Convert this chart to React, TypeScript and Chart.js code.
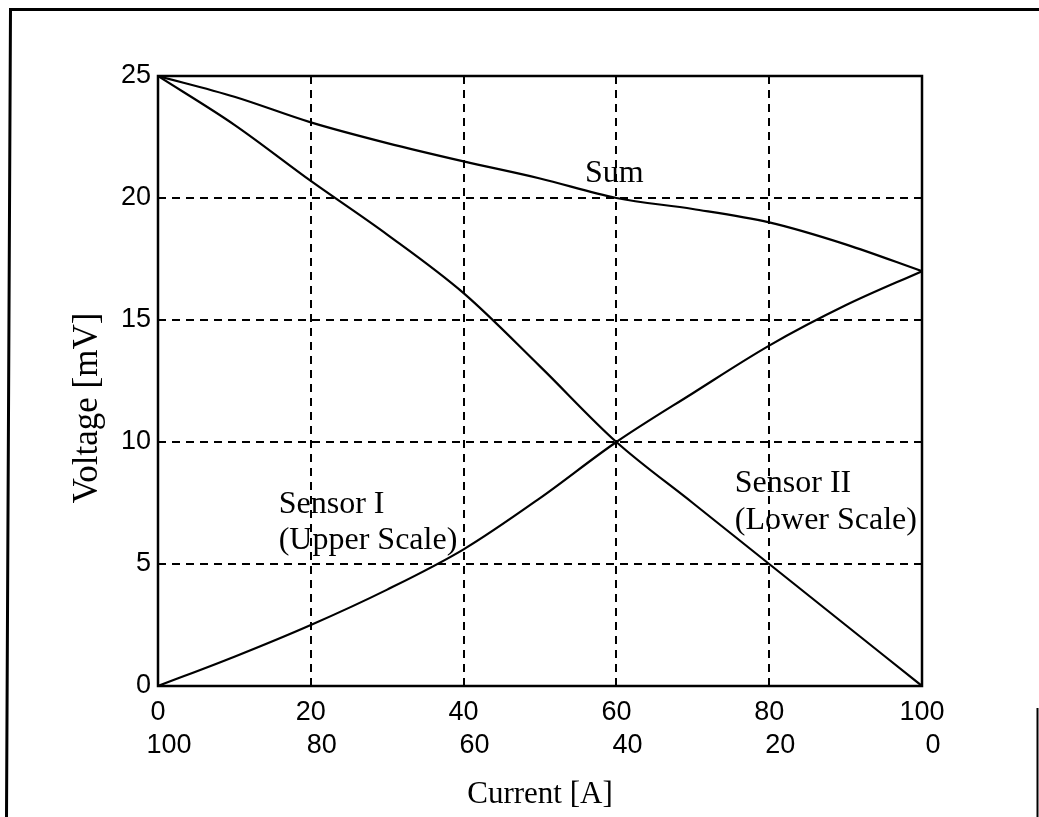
import React, { useEffect, useRef } from "react";
import { Chart, registerables } from "chart.js";

Chart.register(...registerables);

// Upper-scale current [A]
const currentUpper = [0, 10, 20, 30, 40, 50, 60, 70, 80, 90, 100];
// Voltage [mV]
const sensorI = [0, 1.2, 2.5, 3.95, 5.6, 7.7, 10, 12.0, 13.95, 15.6, 17.0];
const sensorII = [25, 23.0, 20.7, 18.5, 16.1, 13.1, 10, 7.5, 5.0, 2.5, 0];
const sumValues = [25, 24.15, 23.1, 22.25, 21.5, 20.8, 20.0, 19.55, 19.0, 18.1, 17.0];

const xTitle = "Current [A]";
const yTitle = "Voltage [mV]";

// annotation texts with their data positions (x upper scale, y voltage)
const annotations = [
  { text: "Sum", x: 55.9, y: 20.66 },
  { text: "Sensor I", x: 15.8, y: 7.09 },
  { text: "(Upper Scale)", x: 15.8, y: 5.61 },
  { text: "Sensor II", x: 75.5, y: 7.95 },
  { text: "(Lower Scale)", x: 75.5, y: 6.43 },
];

const W = 1039;
const H = 817;

const toPoints = (ys: number[]) => currentUpper.map((x, i) => ({ x, y: ys[i] }));

const framePlugin = {
  id: "framePlugin",
  beforeDraw(chart: any) {
    const ctx = chart.ctx;
    ctx.save();
    ctx.fillStyle = "#fff";
    ctx.fillRect(0, 0, W, H);
    ctx.strokeStyle = "#000";
    ctx.lineWidth = 3;
    ctx.beginPath();
    ctx.moveTo(6.5, H);
    ctx.lineTo(10.5, 9.5);
    ctx.lineTo(W, 9.5);
    ctx.stroke();
    ctx.lineWidth = 2;
    ctx.beginPath();
    ctx.moveTo(1037.5, 708);
    ctx.lineTo(1037.5, H);
    ctx.stroke();
    ctx.restore();
  },
  afterDraw(chart: any) {
    const { ctx, chartArea, scales } = chart;
    ctx.save();
    ctx.strokeStyle = "#000";
    ctx.lineWidth = 2.5;
    ctx.strokeRect(chartArea.left, chartArea.top, chartArea.right - chartArea.left, chartArea.bottom - chartArea.top);
    ctx.fillStyle = "#000";
    ctx.font = "32px 'Liberation Serif'";
    ctx.textAlign = "left";
    ctx.textBaseline = "alphabetic";
    for (const a of annotations) {
      ctx.fillText(a.text, scales.x.getPixelForValue(a.x), scales.y.getPixelForValue(a.y));
    }
    ctx.font = "35px 'Liberation Serif'";
    ctx.translate(88, 408);
    ctx.rotate(-Math.PI / 2);
    ctx.textAlign = "center";
    ctx.textBaseline = "middle";
    ctx.fillText(yTitle, 0, 0);
    ctx.restore();
  },
};

export default function App() {
  const ref = useRef<HTMLCanvasElement>(null);
  useEffect(() => {
    if (!ref.current) return;
    const line = { borderColor: "#000", borderWidth: 2.2, pointRadius: 0, cubicInterpolationMode: "monotone" as const, fill: false };
    const tickFont = { family: "'Liberation Sans', Arial, sans-serif", size: 27 };
    const chart = new Chart(ref.current, {
      type: "line",
      data: {
        datasets: [
          { label: "Sensor I", data: toPoints(sensorI), ...line },
          { label: "Sensor II", data: toPoints(sensorII), ...line },
          { label: "Sum", data: toPoints(sumValues), ...line },
        ],
      },
      options: {
        animation: false,
        responsive: false,
        layout: { padding: { left: 0, top: 76, right: 117, bottom: 0 } },
        plugins: { legend: { display: false }, tooltip: { enabled: false } },
        scales: {
          x: {
            type: "linear",
            position: "bottom",
            min: 0,
            max: 100,
            ticks: { stepSize: 20, color: "#000", font: tickFont, padding: 10, maxRotation: 0 },
            grid: { color: "#000", lineWidth: 2, drawTicks: false },
            border: { display: false, dash: [8, 6] },
            afterFit: (s: any) => { s.height = 36; },
          },
          x2: {
            type: "linear",
            position: "bottom",
            reverse: true,
            min: 0,
            max: 100,
            ticks: { stepSize: 20, color: "#000", font: tickFont, padding: 7, labelOffset: 11, maxRotation: 0 },
            grid: { display: false, drawTicks: false },
            border: { display: false },
            title: { display: true, text: xTitle, color: "#000", font: { family: "'Liberation Serif', serif", size: 31 }, padding: { top: 0, bottom: 4 } },
            afterFit: (s: any) => { s.height = 95; },
          },
          y: {
            type: "linear",
            min: 0,
            max: 25,
            ticks: { stepSize: 5, color: "#000", font: tickFont, padding: 7 },
            grid: { color: "#000", lineWidth: 2, drawTicks: false },
            border: { display: false, dash: [8, 6] },
            afterFit: (s: any) => { s.width = 158; },
          },
        },
      },
      plugins: [framePlugin],
    });
    return () => chart.destroy();
  }, []);
  return (
    <div style={{ position: "absolute", left: 0, top: 0, width: W, height: H, background: "#fff" }}>
      <canvas ref={ref} width={W} height={H} style={{ display: "block", width: W, height: H }} />
    </div>
  );
}
